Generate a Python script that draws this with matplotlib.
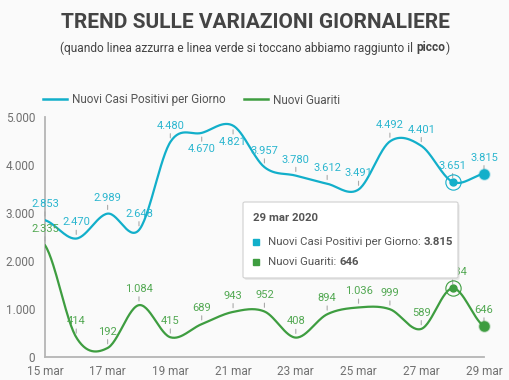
import numpy as np
import matplotlib
matplotlib.use('Agg')
import matplotlib.pyplot as plt
from matplotlib.patches import FancyBboxPatch
from matplotlib.lines import Line2D

plt.rcParams['font.family'] = ['Roboto', 'DejaVu Sans']

# data
days = ['15 mar', '16 mar', '17 mar', '18 mar', '19 mar', '20 mar', '21 mar', '22 mar',
        '23 mar', '24 mar', '25 mar', '26 mar', '27 mar', '28 mar', '29 mar']
positivi = [2853, 2470, 2989, 2648, 4480, 4670, 4821, 3957, 3780, 3612, 3491, 4492, 4401, 3651, 3815]
guariti = [2335, 414, 192, 1084, 415, 689, 943, 952, 408, 894, 1036, 999, 589, 1434, 646]
y_ticks = [0, 1000, 2000, 3000, 4000, 5000]
# labels drawn under the point instead of above (to avoid collisions)
below_positivi = {5, 6}

BLUE = '#12afca'
GREEN = '#3e9d40'
BLUE_LBL = '#2bb6cf'
GREEN_LBL = '#52a852'
GREY_TXT = '#707070'
DARK = '#444444'
BG = '#fafafa'


def fmt(v):
    return f'{v:,}'.replace(',', '.')


def smooth(vals, n=30):
    # catmull-rom spline through the points, just for drawing the curve
    y = np.asarray(vals, float)
    p = np.concatenate([[y[0]], y, [y[-1]]])
    xs, ys = [], []
    t = np.linspace(0, 1, n, endpoint=False)
    for i in range(len(y) - 1):
        p0, p1, p2, p3 = p[i], p[i + 1], p[i + 2], p[i + 3]
        ys.append(0.5 * (2 * p1 + (-p0 + p2) * t + (2 * p0 - 5 * p1 + 4 * p2 - p3) * t ** 2
                         + (-p0 + 3 * p1 - 3 * p2 + p3) * t ** 3))
        xs.append(i + t)
    xs.append([len(y) - 1])
    ys.append([y[-1]])
    return np.concatenate(xs), np.concatenate(ys)


fig = plt.figure(figsize=(5.1, 3.8), dpi=100, facecolor=BG)
ax = fig.add_axes([0.088, 0.06, 0.861, 0.632], facecolor=BG)

x = np.arange(len(days))
for vals, col, lcol, below in [(positivi, BLUE, BLUE_LBL, below_positivi),
                               (guariti, GREEN, GREEN_LBL, set())]:
    sx, sy = smooth(vals)
    ax.plot(sx, sy, color=col, lw=1.6, solid_capstyle='round', zorder=3)
    for i, v in zip(x, vals):
        dy, va = ((0, -8), 'top') if i in below else ((0, 8), 'bottom')
        ax.annotate(fmt(v), (i, v), xytext=dy, textcoords='offset points',
                    ha='center', va=va, fontsize=8, color=lcol, zorder=4,
                    annotation_clip=False,
                    arrowprops=dict(arrowstyle='-', color='#aaaaaa', lw=0.8,
                                    shrinkA=0, shrinkB=3))

# hover markers
for vals, col in [(positivi, BLUE), (guariti, GREEN)]:
    ax.plot(x[13], vals[13], 'o', ms=5, color=col, zorder=5)
    ax.plot(x[13], vals[13], 'o', ms=11, mfc='none', mec=col, mew=0.8, zorder=5)
    ax.plot(x[14], vals[14], 'o', ms=8, color=col, alpha=0.25, zorder=5, clip_on=False)
    ax.plot(x[14], vals[14], 'o', ms=6.5, color=col, zorder=5, clip_on=False)

ax.set_xlim(0, 14)
ax.set_ylim(0, 5000)
ax.set_xticks(x[::2])
ax.set_xticklabels(days[::2])
ax.set_yticks(y_ticks)
ax.set_yticklabels([fmt(v) for v in y_ticks])
ax.tick_params(length=0, labelsize=8.5, labelcolor=GREY_TXT)
ax.tick_params(axis='y', pad=7)
ax.tick_params(axis='x', pad=5.5)
for s in ['top', 'right']:
    ax.spines[s].set_visible(False)
for s in ['left', 'bottom']:
    ax.spines[s].set_color('#b5b5b5')
    ax.spines[s].set_linewidth(1.3)

# legend
handles = [Line2D([], [], color=BLUE, lw=1.8), Line2D([], [], color=GREEN, lw=1.8)]
fig.legend(handles, ['Nuovi Casi Positivi per Giorno', 'Nuovi Guariti'],
           loc='center left', bbox_to_anchor=(43 / 510, 1 - 100 / 380), ncol=2,
           frameon=False, fontsize=8.5, labelcolor='#555555', handlelength=2.0,
           handletextpad=0.45, columnspacing=1.6, borderaxespad=0, borderpad=0)

# titles
fig.text(0.5, 1 - 22 / 380, 'TREND SULLE VARIAZIONI GIORNALIERE', ha='center', va='center',
         fontsize=15, fontweight='bold', color=DARK)

renderer = fig.canvas.get_renderer()


def mixed(parts, x0, y0, size, color, center=False):
    # place normal / bold pieces one after another on one line
    texts = []
    for s, w in parts:
        texts.append(fig.text(0, y0, s, ha='left', va='center', fontsize=size,
                              fontweight=w, color=color))
    widths = [t.get_window_extent(renderer).width / fig.bbox.width for t in texts]
    if center:
        x0 = x0 - sum(widths) / 2
    for t, w in zip(texts, widths):
        t.set_x(x0)
        x0 += w
    return texts


mixed([('(quando linea azzurra e linea verde si toccano abbiamo raggiunto il ', 'normal'),
       ('picco', 'bold'), (')', 'normal')], 0.5, 1 - 48 / 380, 8.6, DARK, center=True)

# tooltip
bx, by, bw, bh = 243 / 510, 1 - 278 / 380, 215 / 510, 76 / 380
shadow = FancyBboxPatch((bx + 0.003, by - 0.005), bw, bh, boxstyle='round,pad=0,rounding_size=0.004',
                        transform=fig.transFigure, facecolor='#000000', alpha=0.08,
                        edgecolor='none', zorder=9)
box = FancyBboxPatch((bx, by), bw, bh, boxstyle='round,pad=0,rounding_size=0.004',
                     transform=fig.transFigure, facecolor='white', edgecolor='#d0d0d0',
                     lw=0.8, zorder=10)
fig.add_artist(shadow)
fig.add_artist(box)
t = fig.text(253 / 510, 1 - 218 / 380, '29 mar 2020', ha='left', va='center', fontsize=8.2,
             fontweight='bold', color='#555555', zorder=11)
rows = [(BLUE, 'Nuovi Casi Positivi per Giorno: ', positivi[-1], 242),
        (GREEN, 'Nuovi Guariti: ', guariti[-1], 262)]
for col, lab, val, py in rows:
    fig.add_artist(Line2D([256 / 510], [1 - py / 380], marker='s', ms=3.8, color=col,
                          transform=fig.transFigure, zorder=11))
    for tt in mixed([(lab, 'normal'), (fmt(val), 'bold')], 268 / 510, 1 - py / 380, 8.2, '#555555'):
        tt.set_zorder(11)

fig.savefig('out.png', dpi=100, facecolor=BG)
